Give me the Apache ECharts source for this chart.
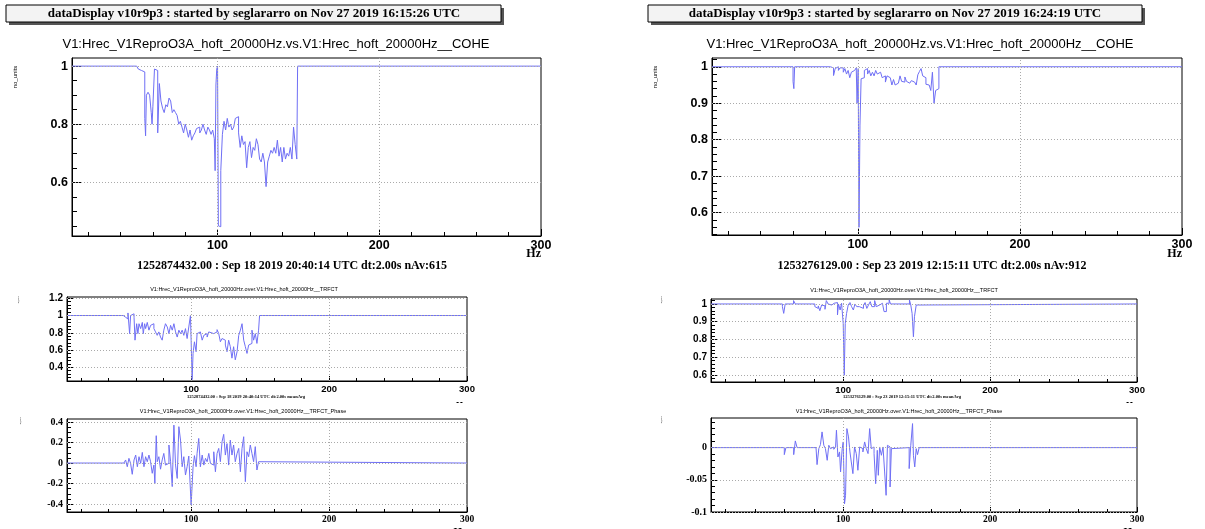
<!DOCTYPE html>
<html><head><meta charset="utf-8">
<script src="https://cdn.jsdelivr.net/npm/echarts@6/dist/echarts.min.js"></script>
<style>html,body{margin:0;padding:0;background:#fff}#c{width:1205px;height:529px}</style>
</head><body><div id="c"></div>
<script>
// ---------- DATA (frequency in Hz, value) ----------
const xLabels = [100, 200, 300];
const xMinor = [20, 40, 60, 80, 120, 140, 160, 180, 220, 240, 260, 280];

const coheLeft = [[10,1],[50,1],[51,0.99],[52,0.985],[53,0.99],[54,0.98],[55,0.82],[55.5,0.76],[56,0.9],[57,0.91],[58,0.9],[59,0.84],[59.5,0.8],[60,0.86],[61,0.99],[62,0.985],[63,0.77],[64,0.94],[65,0.88],[66,0.855],[67,0.84],[68,0.867],[69,0.86],[70,0.89],[71,0.88],[72,0.84],[73,0.85],[74,0.84],[75,0.83],[76,0.8],[77,0.81],[78,0.79],[79,0.77],[80,0.8],[81,0.78],[82,0.755],[83,0.78],[84,0.745],[85,0.76],[86,0.77],[87,0.785],[88,0.79],[89,0.77],[90,0.78],[91,0.8],[92,0.78],[93,0.765],[94,0.79],[95,0.78],[96,0.765],[97,0.78],[98,0.75],[98.5,0.64],[99,0.935],[99.5,0.99],[100,1.0],[100.5,0.45],[101,0.447],[102,0.64],[103,0.765],[104,0.81],[105,0.78],[106,0.82],[107,0.79],[108,0.8],[109,0.78],[110,0.79],[111,0.82],[112,0.826],[113,0.77],[114,0.72],[115,0.76],[116,0.73],[117,0.74],[118,0.65],[119,0.72],[120,0.74],[121,0.685],[122,0.72],[123,0.71],[124,0.75],[125,0.73],[126,0.68],[127,0.67],[128,0.7],[129,0.67],[130,0.585],[131,0.67],[132,0.69],[133,0.71],[134,0.7],[135,0.72],[136,0.7],[137,0.745],[138,0.69],[139,0.72],[140,0.67],[141,0.72],[142,0.68],[143,0.7],[144,0.69],[145,0.72],[146,0.68],[147,0.79],[148,0.73],[149,0.68],[149.5,1],[300,1]];

const coheRight = [[10,1],[55,0.998],[56,1],[60,0.96],[60.5,0.94],[61,1],[67,0.998],[68,1],[83,0.997],[85,0.976],[86,0.995],[87,1],[88,0.99],[89,0.997],[91,0.985],[92,0.995],[93,0.98],[94,0.99],[95,0.97],[96,0.985],[97,0.99],[98,0.985],[99,0.997],[99.5,0.9],[100.2,0.995],[100.7,0.56],[101.3,0.84],[102,0.967],[103,0.97],[104,0.99],[105,0.995],[106,0.98],[107,0.99],[108,0.975],[109,0.985],[110,0.975],[111,0.99],[112,0.98],[113,0.985],[114,0.98],[115,0.97],[116,0.975],[117,0.958],[118,0.975],[119,0.97],[120,0.965],[121,0.95],[122,0.965],[123,0.95],[124,0.955],[125,0.95],[126,0.975],[127,0.96],[128,0.958],[129,0.972],[130,0.96],[131,0.955],[132,0.958],[133,0.962],[134,0.958],[135,0.955],[136,0.95],[137,0.978],[138,0.987],[139,0.995],[140,0.975],[141,0.97],[142,0.952],[143,0.95],[144,0.955],[145,0.935],[146,0.985],[147,0.9],[148,0.935],[149,0.94],[150,1],[300,1]];

const trfctLeft = [[10,1],[50.8,0.98],[52.5,0.96],[54.2,1.03],[55.4,0.79],[56.1,1.0],[57.3,1.02],[58.6,0.98],[59.3,0.714],[60.5,0.905],[61.4,0.79],[62.2,0.905],[63.4,0.848],[64.6,0.92],[65.3,0.79],[66.3,0.905],[67,0.848],[68.2,0.92],[69.4,0.83],[70.6,0.886],[71.8,0.905],[73,0.848],[74.2,0.81],[75.4,0.77],[76.6,0.81],[77.8,0.75],[79,0.714],[80.2,0.83],[81.4,0.905],[82.7,0.867],[83.9,0.79],[85.1,0.886],[86.3,0.83],[87.5,0.905],[88.7,0.81],[89.9,0.75],[91.1,0.83],[92.3,0.79],[93.5,0.83],[94.7,0.77],[95.9,0.848],[97.1,0.733],[98.3,0.867],[99.5,1.0],[100,0.714],[100.7,0.257],[101.4,0.56],[102.4,0.695],[103.6,0.58],[104.3,0.79],[105.5,0.81],[106.7,0.79],[108,0.714],[109.2,0.77],[110.4,0.79],[111.6,0.75],[112.8,0.81],[114,0.79],[116.4,0.81],[118.8,0.836],[120,0.79],[121.2,0.695],[122.4,0.733],[123.6,0.714],[124.8,0.657],[126,0.58],[127.2,0.714],[128.4,0.638],[129.6,0.505],[130.8,0.638],[132,0.486],[133.3,0.58],[134.5,0.77],[135.7,0.83],[136.9,0.905],[138.1,0.714],[139.3,0.638],[140.5,0.56],[141.7,0.657],[142.9,0.676],[144.1,0.83],[145.3,0.714],[146.5,0.79],[147.7,0.676],[148.9,0.83],[149.6,1],[300,1]];

const trfctRight = [[10,1],[58.6,0.985],[59.5,0.947],[60.5,1],[66.2,1.019],[67.4,1],[80.7,0.985],[81.6,0.975],[83,0.989],[84.1,0.962],[85.3,0.994],[86.4,0.989],[87.6,0.97],[88.5,1.019],[89.7,1],[90.8,0.994],[92.2,1.004],[93.8,0.994],[94.9,1.008],[96.1,0.938],[96.8,1],[97.9,0.966],[98.9,1.004],[100,0.89],[100.7,0.598],[101.4,0.89],[102.3,0.947],[103.4,0.994],[104.6,1.008],[105.7,0.985],[106.9,0.966],[108,1],[109.2,0.985],[111,0.994],[112.2,0.975],[113.8,0.994],[114.9,1.008],[116.1,0.975],[117.2,0.994],[118.4,1.013],[119.5,0.985],[121.4,1.019],[122.5,0.985],[123.7,0.994],[124.8,1.004],[126.7,1.004],[127.8,0.957],[129.4,1.004],[131.3,1.023],[132.2,1],[145.1,1.023],[146,0.994],[146.9,0.947],[147.8,0.815],[148.5,0.928],[149.7,0.994],[151.3,1],[300,1]];

const phaseLeft = [[10,0],[51.3,-0.013],[52.5,0.03],[53.7,-0.036],[54.9,0.046],[56.1,-0.003],[57.3,-0.11],[58.6,0.03],[59.8,0.078],[61,-0.036],[62.2,0.062],[63.4,-0.003],[64.6,0.104],[65.8,-0.036],[67,0.062],[68.2,0.013],[69.4,0.078],[70.6,0.013],[71.8,-0.1],[73,-0.02],[73.7,-0.2],[74.7,0.267],[75.4,0.013],[76.6,0.062],[77.8,-0.06],[79,0.03],[80.2,0.094],[81.4,-0.02],[82.7,-0.003],[83.9,0.176],[85.1,0.013],[86.3,-0.23],[87.5,0.37],[88.7,-0.02],[89.9,-0.15],[91.1,0.355],[92.3,0.224],[93.5,-0.036],[94.7,0.062],[95.9,-0.117],[97.1,-0.036],[98.3,0.068],[99.5,0.068],[100,-0.41],[100.7,-0.41],[101.4,-0.036],[102.4,0.072],[103.6,-0.036],[104.3,0.094],[105.5,0.24],[106.7,-0.036],[108,0.078],[109.2,-0.02],[110.4,0.046],[111.6,0.013],[112.8,0.094],[114,-0.003],[115.2,-0.02],[116.4,0.11],[117.6,-0.085],[118.8,0.094],[120,0.143],[121.2,0.013],[122.4,0.208],[123.6,0.28],[124.8,0.078],[126,0.19],[127.2,-0.02],[128.4,0.224],[129.6,0.078],[130.8,0.176],[132,0.013],[133.3,0.094],[134.5,0.143],[135.7,-0.085],[136.9,0.143],[138.1,0.257],[139.3,-0.182],[140.5,0.11],[141.7,0.062],[142.9,0.176],[144.1,0.094],[145.3,0.013],[146.5,0.16],[147.7,-0.068],[148.9,0.013],[149.6,0],[300,0]];

const phaseRight = [[10,0],[59.9,-0.0109],[61,0],[66.3,-0.0109],[67.4,0.0104],[68.6,0],[81.5,-0.0016],[82.2,-0.0264],[83.4,-0.0016],[84.5,0.0047],[85.6,0.0244],[86.8,0.0036],[87.9,-0.0016],[89.1,-0.0197],[90.2,0.0036],[91.3,-0.0016],[92.5,0.001],[93.6,-0.0026],[94.8,0.001],[95.4,0.027],[96.4,-0.0145],[97.5,-0.0067],[98.2,-0.0378],[99.3,-0.0016],[100,0.0088],[100.9,-0.0872],[101.6,-0.0741],[102.5,0.0295],[103.6,0.0166],[104.6,-0.0067],[105.5,-0.0223],[106.6,-0.0404],[107.7,0.001],[108.9,-0.0093],[110,-0.0352],[111.2,0.001],[112.3,-0.0016],[113.4,-0.0067],[114.6,0.0088],[115.7,-0.0016],[116.9,-0.0093],[118,0.0295],[119.1,-0.0016],[120.3,0.001],[121,-0.0093],[122.1,-0.056],[123.2,-0.0042],[123.9,-0.043],[124.8,0.001],[126,-0.0119],[127.1,0.001],[128.2,-0.0378],[129.2,-0.0741],[130.1,0.0036],[131,0.001],[131.9,-0.0611],[132.8,-0.0016],[133.7,0],[144.9,-0.0326],[146,0.0036],[147.2,0.0373],[147.8,-0.0119],[148.7,-0.03],[149.7,-0.0016],[150.6,-0.0109],[151.7,0],[300,0]];

// y tick labels per panel
const yLabCoheLeft = [0.6, 0.8, 1];
const yLabCoheRight = [0.6, 0.7, 0.8, 0.9, 1];
const yLabTrfctLeft = [0.4, 0.6, 0.8, 1, 1.2];
const yLabTrfctRight = [0.6, 0.7, 0.8, 0.9, 1];
const yLabPhaseLeft = [-0.4, -0.2, 0, 0.2, 0.4];
const yLabPhaseRight = [-0.1, -0.05, 0];

// ---------- LAYOUT ----------
const SANS = '"Liberation Sans", Arial, sans-serif';
const SERIF = '"Liberation Serif", "Times New Roman", serif';
const LINE = '#6f6ff5';

function minorList(lo, hi, step, majors) {
  const out = [];
  const n = Math.round((hi - lo) / step);
  for (let i = 0; i <= n; i++) {
    const v = +(lo + i * step).toFixed(6);
    if (!majors.some(m => Math.abs(m - v) < 1e-9)) out.push(v);
  }
  return out;
}

const panels = [
  {grid:{left:72, top:58, width:469, height:178}, ymin:0.415, ymax:1.028, ylab:yLabCoheLeft, ymin2:[0.45,1.0,0.05], data:coheLeft, yfont:[SANS,12.5], xfont:[SANS,12.5], xmajLen:7, ymajLen:9},
  {grid:{left:712, top:58, width:470, height:177}, ymin:0.539, ymax:1.024, ylab:yLabCoheRight, ymin2:[0.54,1.02,0.02], data:coheRight, yfont:[SANS,12.5], xfont:[SANS,12.5], xmajLen:7, ymajLen:9},
  {grid:{left:67, top:297, width:400, height:84}, ymin:0.24, ymax:1.215, ylab:yLabTrfctLeft, ymin2:[0.24,1.2,0.04], data:trfctLeft, yfont:[SANS,10], xfont:[SANS,9.5], xmajLen:5, ymajLen:7},
  {grid:{left:711, top:299, width:426, height:83}, ymin:0.56, ymax:1.028, ylab:yLabTrfctRight, ymin2:[0.56,1.02,0.02], data:trfctRight, yfont:[SANS,10], xfont:[SANS,9.5], xmajLen:5, ymajLen:7},
  {grid:{left:67, top:419, width:400, height:93}, ymin:-0.478, ymax:0.43, ylab:yLabPhaseLeft, ymin2:[-0.45,0.4,0.05], data:phaseLeft, yfont:[SERIF,10], xfont:[SERIF,9.5], xmajLen:5, ymajLen:7},
  {grid:{left:711, top:418, width:426, height:94}, ymin:-0.1, ymax:0.046, ylab:yLabPhaseRight, ymin2:[-0.1,0.04,0.01], data:phaseRight, yfont:[SERIF,10], xfont:[SERIF,9.5], xmajLen:5, ymajLen:7}
];

const grids = [], xAxes = [], yAxes = [], series = [];
panels.forEach((p, g) => {
  grids.push(Object.assign({show:true, borderColor:'#000', borderWidth:1, backgroundColor:'#fff'}, p.grid));
  const base = {type:'value', gridIndex:g, min:10, max:300, position:'bottom'};
  xAxes.push(Object.assign({}, base, {
    axisLine:{show:true, onZero:false, lineStyle:{color:'#000', width:1}},
    axisTick:{show:true, inside:true, length:p.xmajLen, customValues:xLabels, lineStyle:{color:'#000'}},
    axisLabel:{show:true, customValues:xLabels, margin:3, color:'#000', fontFamily:p.xfont[0], fontSize:p.xfont[1], fontWeight:'bold'},
    splitLine:{show:false}
  }));
  xAxes.push(Object.assign({}, base, {
    axisLine:{show:false, onZero:false},
    axisTick:{show:true, inside:true, length:Math.round(p.xmajLen/2), customValues:xMinor, lineStyle:{color:'#000'}},
    axisLabel:{show:false}, splitLine:{show:false}
  }));
  const ybase = {type:'value', gridIndex:g, min:p.ymin, max:p.ymax, position:'left'};
  yAxes.push(Object.assign({}, ybase, {
    axisLine:{show:true, onZero:false, lineStyle:{color:'#000', width:1}},
    axisTick:{show:true, inside:true, length:p.ymajLen, customValues:p.ylab, lineStyle:{color:'#000'}},
    axisLabel:{show:true, customValues:p.ylab, margin:4, color:'#000', fontFamily:p.yfont[0], fontSize:p.yfont[1], fontWeight:'bold'},
    splitLine:{show:false}
  }));
  yAxes.push(Object.assign({}, ybase, {
    axisLine:{show:false, onZero:false},
    axisTick:{show:true, inside:true, length:Math.round(p.ymajLen/2), customValues:minorList(p.ymin2[0], p.ymin2[1], p.ymin2[2], p.ylab), lineStyle:{color:'#000'}},
    axisLabel:{show:false}, splitLine:{show:false}
  }));
  // grid lines (dotted) drawn below the data
  const glines = [{xAxis:100},{xAxis:200}].concat(p.ylab.map(v => ({yAxis:v})));
  series.push({type:'line', xAxisIndex:2*g, yAxisIndex:2*g, data:[], z:1, silent:true,
    markLine:{silent:true, symbol:['none','none'], label:{show:false},
      lineStyle:{type:[1,2], color:'#aaa', width:1}, data:glines, animation:false}});
  series.push({type:'line', xAxisIndex:2*g, yAxisIndex:2*g, data:p.data, step:'end', z:3,
    showSymbol:false, symbol:'none', clip:true, silent:true,
    lineStyle:{color:LINE, width:1}});
});

function txt(x, y, text, font, align, extra) {
  return Object.assign({type:'text', x:x, y:y, silent:true, z:100,
    style:{text:text, font:font, fill:'#000', align:align||'center', verticalAlign:'middle',
           textAlign:align||'center', textVerticalAlign:'middle'}}, extra||{});
}
function box(x, y, w, h) {
  return [
    {type:'rect', silent:true, z:90, shape:{x:x+3, y:y+3, width:w, height:h}, style:{fill:'#555'}},
    {type:'rect', silent:true, z:91, shape:{x:x, y:y, width:w, height:h}, style:{fill:'#f3f3f3', stroke:'#000', lineWidth:1}}
  ];
}

const graphics = [].concat(
  box(6, 5, 495, 17), box(648, 5, 494, 17),
  [
    txt(254, 13.5, 'dataDisplay v10r9p3 : started by seglararro on Nov 27 2019 16:15:26 UTC', 'bold 13px ' + SERIF),
    txt(895, 13.5, 'dataDisplay v10r9p3 : started by seglararro on Nov 27 2019 16:24:19 UTC', 'bold 13px ' + SERIF),
    txt(276, 44, 'V1:Hrec_V1ReproO3A_hoft_20000Hz.vs.V1:Hrec_hoft_20000Hz__COHE', '13px ' + SANS),
    txt(920, 44, 'V1:Hrec_V1ReproO3A_hoft_20000Hz.vs.V1:Hrec_hoft_20000Hz__COHE', '13px ' + SANS),
    txt(15, 77, 'no_units', '6px ' + SANS, 'center', {rotation:Math.PI/2}),
    txt(655, 77, 'no_units', '6px ' + SANS, 'center', {rotation:Math.PI/2}),
    txt(541, 254, 'Hz', 'bold 12px ' + SERIF, 'right'),
    txt(1182, 254, 'Hz', 'bold 12px ' + SERIF, 'right'),
    txt(292, 266, '1252874432.00 : Sep 18 2019 20:40:14 UTC dt:2.00s nAv:615', 'bold 12px ' + SERIF),
    txt(932, 266, '1253276129.00 : Sep 23 2019 12:15:11 UTC dt:2.00s nAv:912', 'bold 12px ' + SERIF),
    // row 2
    txt(244, 289, 'V1:Hrec_V1ReproO3A_hoft_20000Hz.over.V1:Hrec_hoft_20000Hz__TRFCT', '5.5px ' + SANS),
    txt(904, 290, 'V1:Hrec_V1ReproO3A_hoft_20000Hz.over.V1:Hrec_hoft_20000Hz__TRFCT', '5.5px ' + SANS),
    txt(18, 300, 'no_units', '2px ' + SANS, 'center', {rotation:Math.PI/2}),
    txt(661, 300, 'no_units', '2px ' + SANS, 'center', {rotation:Math.PI/2}),
    txt(246, 397, '1252874432.00 : Sep 18 2019 20:40:14 UTC dt:2.00s meanAvg', 'bold 4.5px ' + SERIF),
    txt(902, 397, '1253276129.00 : Sep 23 2019 12:15:11 UTC dt:2.00s meanAvg', 'bold 4.5px ' + SERIF),
    txt(467, 406, 'Hz', 'bold 9px ' + SERIF, 'right'),
    txt(1137, 406, 'Hz', 'bold 9px ' + SERIF, 'right'),
    {type:'rect', silent:true, z:101, shape:{x:452, y:403, width:20, height:7}, style:{fill:'#fff'}},
    {type:'rect', silent:true, z:101, shape:{x:1122, y:403, width:20, height:7}, style:{fill:'#fff'}},
    // row 3
    txt(243, 411, 'V1:Hrec_V1ReproO3A_hoft_20000Hz.over.V1:Hrec_hoft_20000Hz__TRFCT_Phase', '5.5px ' + SANS),
    txt(899, 411, 'V1:Hrec_V1ReproO3A_hoft_20000Hz.over.V1:Hrec_hoft_20000Hz__TRFCT_Phase', '5.5px ' + SANS),
    txt(20, 421, 'no_units', '2px ' + SANS, 'center', {rotation:Math.PI/2}),
    txt(661, 420, 'no_units', '2px ' + SANS, 'center', {rotation:Math.PI/2}),
    txt(467, 532, 'Hz', 'bold 11px ' + SERIF, 'right'),
    txt(1137, 532, 'Hz', 'bold 11px ' + SERIF, 'right')
  ]
);

const chart = echarts.init(document.getElementById('c'), null, {renderer:'canvas'});
chart.setOption({
  animation:false,
  backgroundColor:'#fff',
  textStyle:{fontFamily:SANS},
  grid:grids, xAxis:xAxes, yAxis:yAxes, series:series,
  graphic:{elements:graphics}
});
</script>
</body></html>
